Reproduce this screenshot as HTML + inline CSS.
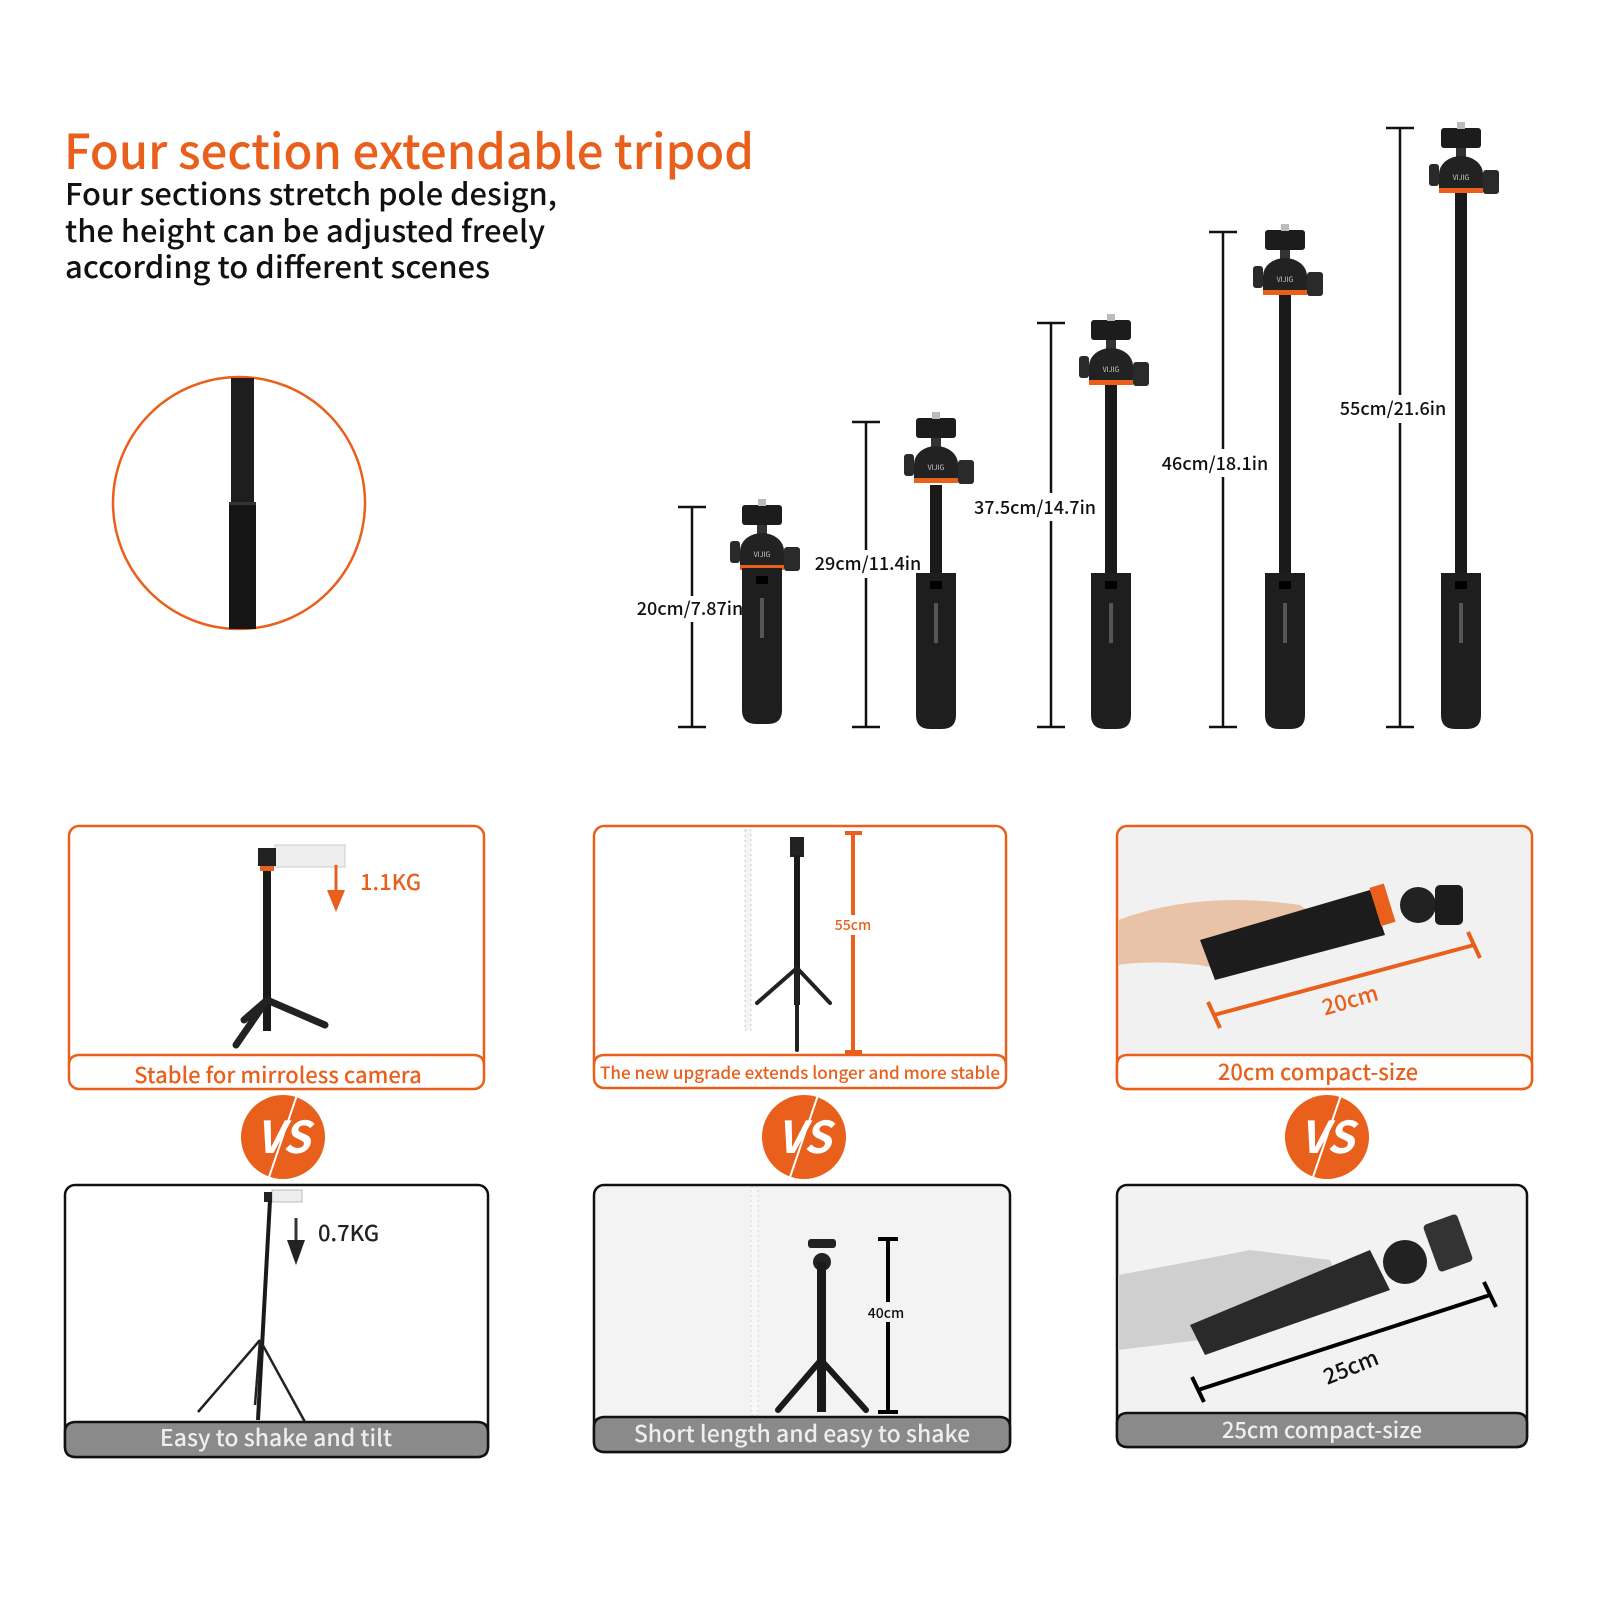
<!DOCTYPE html>
<html><head><meta charset="utf-8"><style>
html,body{margin:0;padding:0;background:#fff;}
svg{display:block;}
text{font-family:"Noto Sans CJK SC","Liberation Sans",sans-serif;}
</style></head><body>
<svg width="1600" height="1600" viewBox="0 0 1600 1600" xmlns="http://www.w3.org/2000/svg">
<defs>
<g id="head">
  <rect x="-20" y="0" width="40" height="20" rx="3" fill="#1c1c1c"/>
  <rect x="-4" y="-6" width="8" height="7" fill="#bbb"/>
  <rect x="-5" y="20" width="10" height="12" fill="#333"/>
  <ellipse cx="0" cy="46" rx="22" ry="18" fill="#222"/>
  <rect x="-22" y="46" width="44" height="16" fill="#222"/>
  <rect x="-22" y="60" width="44" height="5" fill="#e8601c"/>
  <rect x="-32" y="36" width="10" height="22" rx="3" fill="#2a2a2a"/>
  <rect x="22" y="42" width="16" height="24" rx="3" fill="#2a2a2a"/>
  <text x="0" y="52" font-size="7" fill="#ccc" text-anchor="middle">VIJIG</text>
</g>
<g id="handle">
  <path d="M-20 0 H20 V142 Q20 156 6 156 H-6 Q-20 156 -20 142 Z" fill="#1e1e1e"/>
  <rect x="-6" y="8" width="12" height="8" fill="#000"/>
  <rect x="-2" y="30" width="4" height="40" fill="#555"/>
</g>
</defs>

<!-- title -->
<text x="64" y="169" font-size="48" font-weight="500" fill="#e8601c" textLength="690" lengthAdjust="spacingAndGlyphs">Four section extendable tripod</text>
<text x="65" y="205" font-size="30" font-weight="500" fill="#111" textLength="492" lengthAdjust="spacingAndGlyphs">Four sections stretch pole design,</text>
<text x="65" y="242" font-size="30" font-weight="500" fill="#111" textLength="480" lengthAdjust="spacingAndGlyphs">the height can be adjusted freely</text>
<text x="65" y="278" font-size="30" font-weight="500" fill="#111" textLength="425" lengthAdjust="spacingAndGlyphs">according to different scenes</text>

<!-- circle detail -->
<circle cx="239" cy="503" r="126" fill="#fff" stroke="#e8601c" stroke-width="2.5"/>
<rect x="231" y="378" width="23" height="126" fill="#1e1e1e"/>
<rect x="229" y="503" width="27" height="126" fill="#151515"/>
<rect x="229" y="502" width="27" height="3" fill="#333"/>

<!-- dimension lines -->
<g stroke="#111" stroke-width="2.5" fill="none">
  <path d="M692 507 V596 M692 622 V727 M678 507 H706 M678 727 H706"/>
  <path d="M866 422 V550 M866 578 V727 M852 422 H880 M852 727 H880"/>
  <path d="M1051 323 V493 M1051 521 V727 M1037 323 H1065 M1037 727 H1065"/>
  <path d="M1223 232 V449 M1223 477 V727 M1209 232 H1237 M1209 727 H1237"/>
  <path d="M1400 128 V395 M1400 423 V727 M1386 128 H1414 M1386 727 H1414"/>
</g>
<g font-size="18" font-weight="500" fill="#111" text-anchor="middle">
  <text x="690" y="615">20cm/7.87in</text>
  <text x="868" y="570">29cm/11.4in</text>
  <text x="1035" y="514">37.5cm/14.7in</text>
  <text x="1215" y="470">46cm/18.1in</text>
  <text x="1393" y="415">55cm/21.6in</text>
</g>

<!-- tripods -->
<g transform="translate(762,505)"><use href="#head"/></g>
<g transform="translate(762,568)"><use href="#handle"/></g>

<rect x="930" y="485" width="12" height="90" fill="#1a1a1a"/>
<g transform="translate(936,418)"><use href="#head"/></g>
<g transform="translate(936,573)"><use href="#handle"/></g>

<rect x="1105" y="385" width="12" height="190" fill="#1a1a1a"/>
<g transform="translate(1111,320)"><use href="#head"/></g>
<g transform="translate(1111,573)"><use href="#handle"/></g>

<rect x="1279" y="292" width="12" height="283" fill="#1a1a1a"/>
<g transform="translate(1285,230)"><use href="#head"/></g>
<g transform="translate(1285,573)"><use href="#handle"/></g>

<rect x="1455" y="190" width="12" height="385" fill="#1a1a1a"/>
<g transform="translate(1461,128)"><use href="#head"/></g>
<g transform="translate(1461,573)"><use href="#handle"/></g>

<!-- ROW 1 boxes -->
<rect x="69" y="826" width="415" height="263" rx="10" fill="#fff" stroke="#e8601c" stroke-width="2.5"/>
<path d="M69 1065 Q69 1055 80 1055 H473 Q484 1055 484 1065" fill="none" stroke="#e8601c" stroke-width="2.5"/>
<text x="278" y="1083" font-size="22" font-weight="500" fill="#e8601c" text-anchor="middle">Stable for mirroless camera</text>
<rect x="275" y="845" width="70" height="22" fill="#eee" stroke="#ccc"/>
<rect x="258" y="848" width="18" height="18" fill="#222"/>
<rect x="260" y="866" width="14" height="5" fill="#e8601c"/>
<rect x="263" y="871" width="8" height="160" fill="#1a1a1a"/>
<g stroke="#222" stroke-width="7" stroke-linecap="round">
<path d="M267 1000 L236 1045 M267 1000 L325 1025 M267 1000 L244 1020"/></g>
<path d="M336 865 V895" stroke="#e8601c" stroke-width="3"/>
<path d="M327 890 L345 890 L336 912 Z" fill="#e8601c"/>
<text x="360" y="890" font-size="22" font-weight="500" fill="#e8601c">1.1KG</text>

<rect x="594" y="826" width="412" height="262" rx="10" fill="#fff" stroke="#e8601c" stroke-width="2.5"/>
<path d="M594 1065 Q594 1055 605 1055 H995 Q1006 1055 1006 1065" fill="none" stroke="#e8601c" stroke-width="2.5"/>
<text x="800" y="1079" font-size="17" font-weight="500" fill="#e8601c" text-anchor="middle" textLength="400" lengthAdjust="spacingAndGlyphs">The new upgrade extends longer and more stable</text>
<rect x="745" y="830" width="6" height="200" fill="#f4f4f4" stroke="#ccc" stroke-dasharray="2 3"/>
<rect x="790" y="837" width="14" height="20" fill="#222"/>
<rect x="794" y="855" width="6" height="150" fill="#1a1a1a"/>
<g stroke="#222" stroke-width="4" stroke-linecap="round">
<path d="M797 968 L757 1003 M797 968 L830 1003 M797 968 L797 1050"/></g>
<path d="M853 833 V1052 M845 833 H862 M845 1052 H862" stroke="#e8601c" stroke-width="4" fill="none"/>
<rect x="830" y="915" width="46" height="20" fill="#fff"/>
<text x="853" y="930" font-size="14" font-weight="500" fill="#e8601c" text-anchor="middle">55cm</text>

<rect x="1117" y="826" width="415" height="263" rx="10" fill="#f1f1f1" stroke="#e8601c" stroke-width="2.5"/>
<path d="M1117 1065 Q1117 1055 1128 1055 H1521 Q1532 1055 1532 1065 V1079 Q1532 1089 1521 1089 H1128 Q1117 1089 1117 1079 Z" fill="#fff" stroke="#e8601c" stroke-width="2.5"/>
<text x="1318" y="1080" font-size="22" font-weight="500" fill="#e8601c" text-anchor="middle">20cm compact-size</text>
<path d="M1118 920 Q1200 890 1300 905 L1340 935 Q1260 980 1200 965 Q1150 960 1118 965 Z" fill="#e8c3a8"/>
<path d="M1200 940 L1370 890 L1385 935 L1215 980 Z" fill="#1c1c1c"/>
<rect x="1375" y="885" width="15" height="40" fill="#e8601c" transform="rotate(-17 1382 905)"/>
<circle cx="1418" cy="905" r="18" fill="#222"/>
<rect x="1435" y="885" width="28" height="40" rx="5" fill="#1c1c1c"/>
<path d="M1214 1015 L1474 945 M1208 1002 L1220 1028 M1468 932 L1480 958" stroke="#e8601c" stroke-width="4"/>
<text x="1350" y="1008" font-size="22" font-weight="500" fill="#e8601c" text-anchor="middle" transform="rotate(-16 1350 1000)">20cm</text>

<!-- VS circles -->
<g>
<circle cx="283" cy="1137" r="42" fill="#e8601c"/>
<text x="283" y="1153" font-size="44" font-weight="bold" font-style="italic" fill="#fff" text-anchor="middle" font-family="Liberation Sans">VS</text>
<path d="M297 1095 L268 1180" stroke="#fff" stroke-width="2"/>
<circle cx="804" cy="1137" r="42" fill="#e8601c"/>
<text x="804" y="1153" font-size="44" font-weight="bold" font-style="italic" fill="#fff" text-anchor="middle" font-family="Liberation Sans">VS</text>
<path d="M818 1095 L789 1180" stroke="#fff" stroke-width="2"/>
<circle cx="1327" cy="1137" r="42" fill="#e8601c"/>
<text x="1327" y="1153" font-size="44" font-weight="bold" font-style="italic" fill="#fff" text-anchor="middle" font-family="Liberation Sans">VS</text>
<path d="M1341 1095 L1312 1180" stroke="#fff" stroke-width="2"/>
</g>

<!-- ROW 2 boxes -->
<rect x="65" y="1185" width="423" height="272" rx="10" fill="#fff" stroke="#111" stroke-width="2.5"/>
<path d="M65 1432 Q65 1422 76 1422 H477 Q488 1422 488 1432 V1447 Q488 1457 477 1457 H76 Q65 1457 65 1447 Z" fill="#8a8a8a" stroke="#111" stroke-width="2.5"/>
<text x="276" y="1446" font-size="23" font-weight="500" fill="#eee" text-anchor="middle">Easy to shake and tilt</text>
<rect x="272" y="1190" width="30" height="12" fill="#eee" stroke="#bbb"/>
<rect x="264" y="1192" width="8" height="10" fill="#222"/>
<path d="M270 1200 L258 1420" stroke="#1a1a1a" stroke-width="4"/>
<g stroke="#222" stroke-width="2.5"><path d="M260 1340 L198 1412 M260 1340 L305 1422 M260 1340 L255 1405"/></g>
<path d="M296 1218 V1245" stroke="#333" stroke-width="3"/>
<path d="M287 1240 L305 1240 L296 1265 Z" fill="#222"/>
<text x="318" y="1241" font-size="22" font-weight="500" fill="#222">0.7KG</text>

<rect x="594" y="1185" width="416" height="267" rx="10" fill="#f3f3f3" stroke="#111" stroke-width="2.5"/>
<path d="M594 1427 Q594 1417 605 1417 H999 Q1010 1417 1010 1427 V1442 Q1010 1452 999 1452 H605 Q594 1452 594 1442 Z" fill="#8a8a8a" stroke="#111" stroke-width="2.5"/>
<text x="802" y="1442" font-size="23" font-weight="500" fill="#eee" text-anchor="middle">Short length and easy to shake</text>
<rect x="751" y="1187" width="7" height="228" fill="#f8f8f8" stroke="#d8d8d8" stroke-dasharray="2 3"/>
<rect x="808" y="1239" width="28" height="9" rx="3" fill="#222"/>
<circle cx="822" cy="1262" r="9" fill="#222"/>
<rect x="817" y="1262" width="9" height="150" fill="#1a1a1a"/>
<g stroke="#1a1a1a" stroke-width="6" stroke-linecap="round"><path d="M821 1360 L778 1410 M821 1360 L866 1410"/></g>
<path d="M888 1239 V1412 M878 1239 H898 M878 1412 H898" stroke="#000" stroke-width="4" fill="none"/>
<rect x="867" y="1302" width="44" height="20" fill="#f3f3f3"/>
<text x="886" y="1318" font-size="14" font-weight="500" fill="#111" text-anchor="middle">40cm</text>

<rect x="1117" y="1185" width="410" height="262" rx="10" fill="#f2f2f2" stroke="#111" stroke-width="2.5"/>
<path d="M1117 1423 Q1117 1413 1128 1413 H1516 Q1527 1413 1527 1423 V1437 Q1527 1447 1516 1447 H1128 Q1117 1447 1117 1437 Z" fill="#8a8a8a" stroke="#111" stroke-width="2.5"/>
<text x="1322" y="1438" font-size="22" font-weight="500" fill="#eee" text-anchor="middle">25cm compact-size</text>
<path d="M1118 1275 Q1200 1260 1250 1250 L1330 1260 L1350 1305 Q1260 1335 1200 1340 L1118 1350 Z" fill="#cfcfcf"/>
<path d="M1190 1325 L1370 1250 L1390 1290 L1205 1355 Z" fill="#2a2a2a"/>
<circle cx="1405" cy="1262" r="22" fill="#222"/>
<rect x="1430" y="1218" width="36" height="50" rx="4" fill="#333" transform="rotate(-20 1448 1243)"/>
<path d="M1198 1390 L1490 1295 M1192 1377 L1204 1402 M1484 1282 L1496 1307" stroke="#000" stroke-width="4"/>
<text x="1350" y="1375" font-size="22" font-weight="500" fill="#111" text-anchor="middle" transform="rotate(-22 1350 1365)">25cm</text>
</svg>
</body></html>
